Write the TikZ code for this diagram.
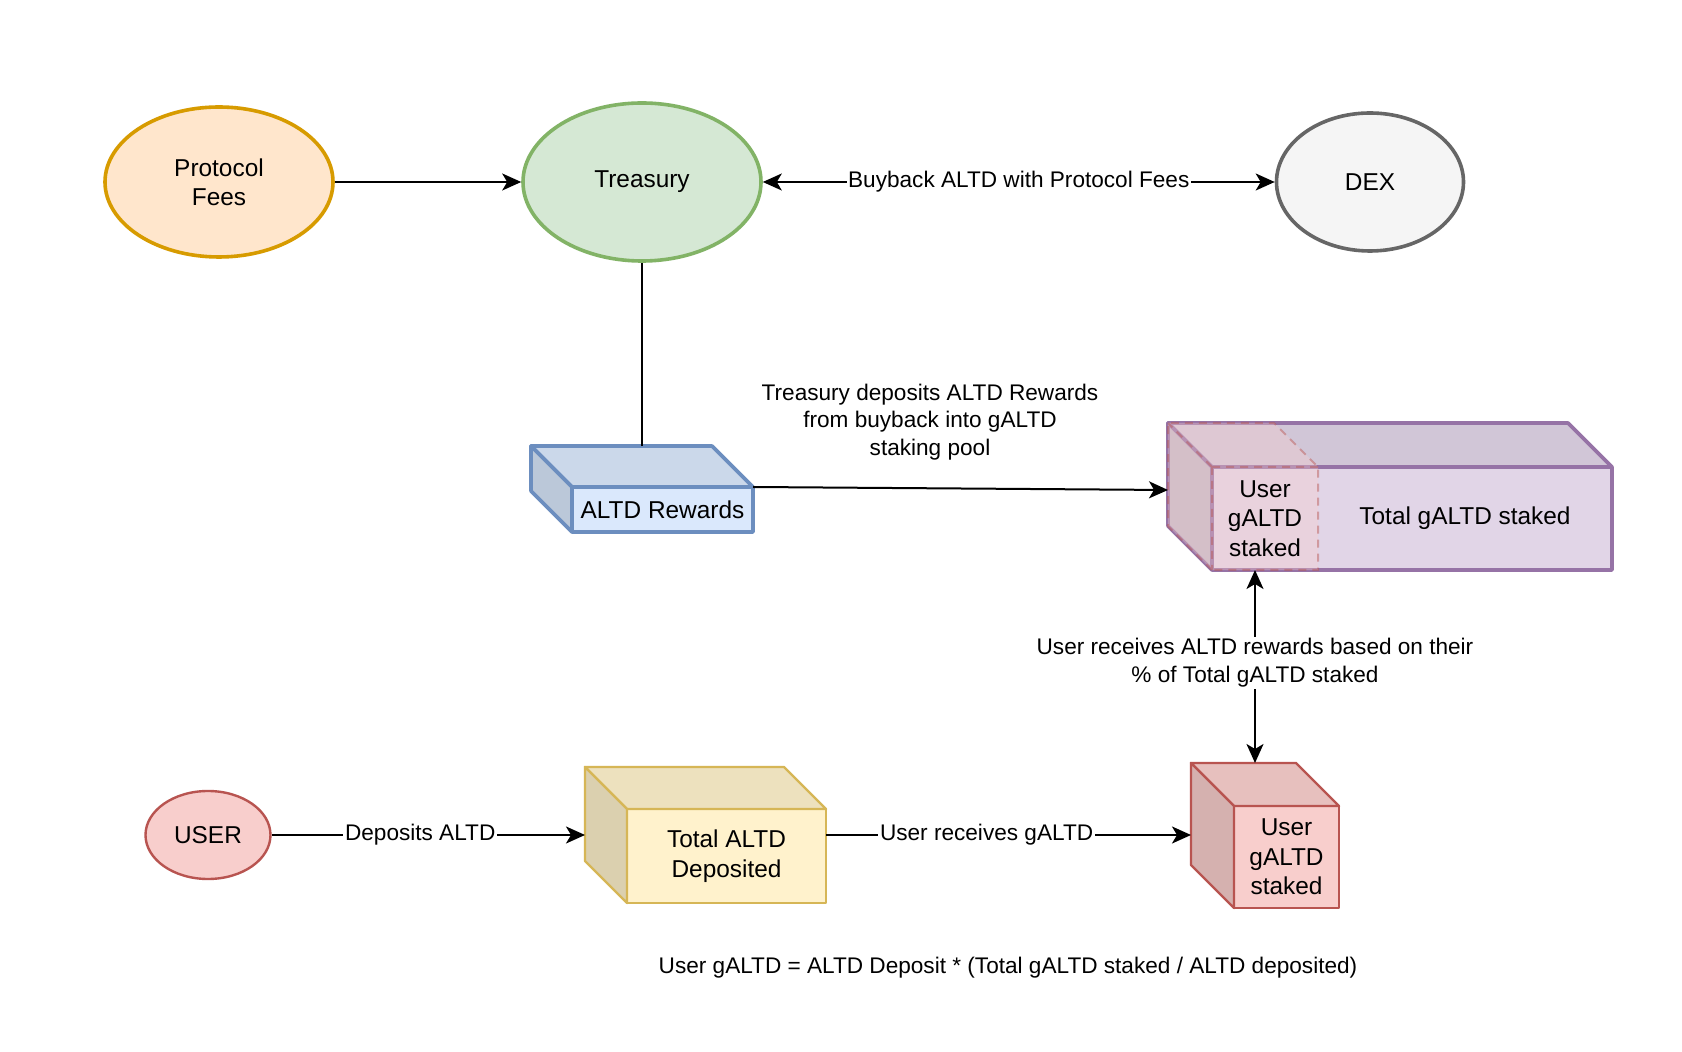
\documentclass[tikz,border=0pt]{standalone}
\usepackage{fontspec}
\setmainfont{Liberation Sans}
\usetikzlibrary{arrows.meta,calc,shapes.geometric}
\definecolor{pfFill}{HTML}{FFE6CC}\definecolor{pfLine}{HTML}{D79B00}
\definecolor{trFill}{HTML}{D5E8D4}\definecolor{trLine}{HTML}{82B366}
\definecolor{dxFill}{HTML}{F5F5F5}\definecolor{dxLine}{HTML}{666666}
\definecolor{blFill}{HTML}{DAE8FC}\definecolor{blLine}{HTML}{6C8EBF}
\definecolor{puFill}{HTML}{E1D5E7}\definecolor{puLine}{HTML}{9673A6}
\definecolor{rdFill}{HTML}{F8CECC}\definecolor{rdLine}{HTML}{B85450}
\definecolor{ylFill}{HTML}{FFF2CC}\definecolor{ylLine}{HTML}{D6B656}
\tikzset{
 nodefont/.style={font=\fontsize{12.2}{14.7}\selectfont},
 edgefont/.style={font=\fontsize{11.3}{13.8}\selectfont},
 oval/.style={ellipse, inner sep=0pt, nodefont, align=center},
 face/.style={rectangle, inner sep=0pt, outer sep=0pt, nodefont, align=center, line join=round},
 tipstyle/.style={},
 conn/.style={line width=1pt, -{Stealth[length=9.5pt,width=8.5pt,inset=2.5pt]}},
 biconn/.style={line width=1pt, {Stealth[length=9.5pt,width=8.5pt,inset=2.5pt]}-{Stealth[length=9.5pt,width=8.5pt,inset=2.5pt]}},
 elabel/.style={fill=white, inner sep=0.8pt, edgefont, align=center},
 plainline/.style={line width=1pt},
}
% #1 node name, #2 depth, #3 fill, #4 line colour, #5 line width
\newcommand{\drawcubefaces}[5]{%
 \filldraw[fill=#3!93!black, draw=#4, line width=#5, line join=round]
   (#1.north west) -- ++(-#2,-#2) -- ($(#1.north east)+(-#2,-#2)$) -- (#1.north east) -- cycle;
 \filldraw[fill=#3!86!black, draw=#4, line width=#5, line join=round]
   (#1.north west) -- ++(-#2,-#2) -- ($(#1.south west)+(-#2,-#2)$) -- (#1.south west) -- cycle;
}
\begin{document}
\begin{tikzpicture}[x=0.5pt,y=-0.5pt]
\useasboundingbox[fill=white] (0,0) rectangle (1682,1052);

% ellipses
\node[oval, fill=pfFill, draw=pfLine, line width=1.8pt, minimum width=114pt, minimum height=75pt] (pf) at (219,182) {Protocol\\Fees};
\node[oval, fill=trFill, draw=trLine, line width=1.8pt, minimum width=119pt, minimum height=79pt] (tr) at (642,182) {Treasury};
\node[oval, fill=dxFill, draw=dxLine, line width=1.8pt, minimum width=93.5pt, minimum height=69pt] (dex) at (1370,182) {DEX};
\node[oval, fill=rdFill, draw=rdLine, line width=1.2pt, minimum width=62.5pt, minimum height=44pt] (user) at (208,835) {USER};

% ALTD Rewards cube
\node[face, fill=blFill, draw=blLine, line width=1.8pt, minimum width=90.5pt, minimum height=22.5pt] (ar) at (662.5,509.5) {ALTD Rewards};
\drawcubefaces{ar}{41}{blFill}{blLine}{1.8pt}

% Total ALTD Deposited cube
\node[face, fill=ylFill, draw=ylLine, line width=1.2pt, minimum width=99.5pt, minimum height=47pt] (yl) at (726.5,856) {Total ALTD\\Deposited};
\drawcubefaces{yl}{42}{ylFill}{ylLine}{1.2pt}

% User gALTD staked cube
\node[face, fill=rdFill, draw=rdLine, line width=1.2pt, minimum width=52.5pt, minimum height=51pt] (rc) at (1286.5,857) {User\\gALTD\\staked};
\drawcubefaces{rc}{43}{rdFill}{rdLine}{1.2pt}

% Total gALTD staked cube
\node[face, fill=puFill, draw=puLine, line width=1.8pt, minimum width=200pt, minimum height=51.5pt] (pb) at (1412,518.5) {};
\drawcubefaces{pb}{44}{puFill}{puLine}{1.8pt}
\coordinate (pbsplit) at ($(pb.north west)+(106,0)$);
\fill[rdFill, fill opacity=0.35]
  (pb.south west) -- ++(-44,-44) -- ($(pb.north west)+(-44,-44)$) -- ($(pbsplit)+(-44,-44)$) -- (pbsplit) -- (pbsplit |- pb.south) -- cycle;
\draw[rdLine, draw opacity=0.45, line width=1pt, dash pattern=on 4pt off 3pt]
  (pb.south west) -- ++(-44,-44) -- ($(pb.north west)+(-44,-44)$) -- ($(pbsplit)+(-44,-44)$) -- (pbsplit) -- (pbsplit |- pb.south) -- cycle
  (pb.north west) -- ++(-44,-44)
  (pb.north west) -- (pbsplit)
  (pb.north west) -- (pb.south west);
\node[nodefont, align=center] (pbuser) at (1265,518.5) {User\\gALTD\\staked};
\node[nodefont, align=center] (pbtotal) at (1465,518.5) {Total gALTD staked};

% connection points
\coordinate (artop) at ($(ar.north west)+(70,-41)$);
\coordinate (pbin) at ($(pb.north west)+(-44,23)$);
\coordinate (rctop) at ($(rc.north west)+(21,-43)$);
\coordinate (ylin) at ($(yl.north west)+(-42,26)$);
\coordinate (ylout) at ($(yl.north east)+(0,26)$);
\coordinate (rcin) at ($(rc.north west)+(-43,29)$);

% connectors
\draw[conn] (pf.east) -- (tr.west);
\draw[biconn] (tr.east) -- node[elabel] {Buyback ALTD with Protocol Fees} (dex.west);
\draw[plainline] (tr.south) -- (tr.south |- artop);
\draw[conn] (ar.north east) -- (pbin);
\node[edgefont, align=center] (tdlabel) at (930,422) {Treasury deposits ALTD Rewards\\from buyback into gALTD\\staking pool};
\draw[biconn] (rctop |- pb.south) -- node[elabel, pos=0.48] {User receives ALTD rewards based on their\\\% of Total gALTD staked} (rctop);
\draw[conn] (user.east) -- node[elabel, pos=0.474] {Deposits ALTD} (ylin);
\draw[conn] (ylout) -- node[elabel, pos=0.44] {User receives gALTD} (rcin |- ylout);

\node[edgefont] (formula) at (1008,968) {User gALTD = ALTD Deposit * (Total gALTD staked / ALTD deposited)};
\end{tikzpicture}
\end{document}
